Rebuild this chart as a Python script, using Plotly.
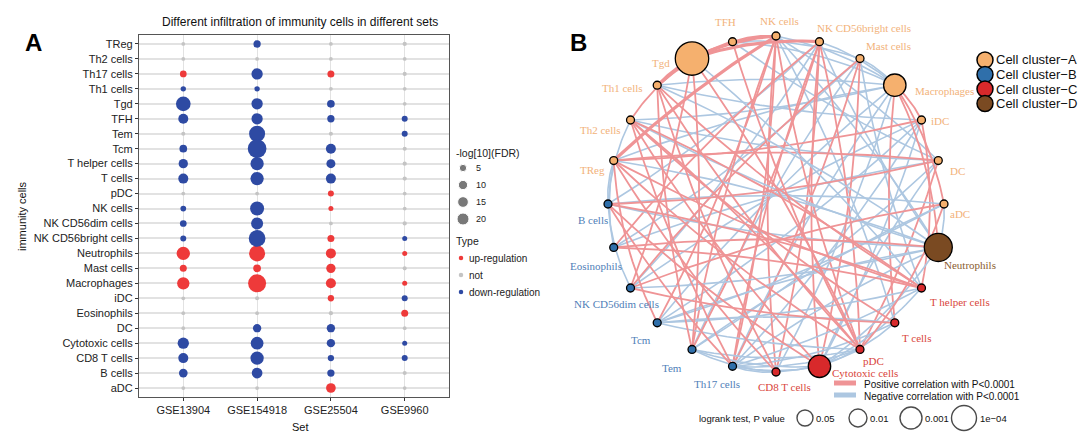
import numpy as np
import plotly.graph_objects as go

W, H = 1080, 439

# ---------------- Panel A data ----------------
cells = ["TReg", "Th2 cells", "Th17 cells", "Th1 cells", "Tgd", "TFH", "Tem", "Tcm",
         "T helper cells", "T cells", "pDC", "NK cells", "NK CD56dim cells",
         "NK CD56bright cells", "Neutrophils", "Mast cells", "Macrophages", "iDC",
         "Eosinophils", "DC", "Cytotoxic cells", "CD8 T cells", "B cells", "aDC"]
sets = ["GSE13904", "GSE154918", "GSE25504", "GSE9960"]

fdr_GSE13904 = [0.3, 0.3, 3.8, 1.7, 33, 12.4, 0.5, 5.9, 10.2, 12.4, 0.3, 2.2, 3.8, 2.6,
                26, 4.4, 21.3, 0.3, 0.3, 0.3, 17.2, 12.4, 8.4, 0.3]
type_GSE13904 = ["not", "not", "up", "down", "down", "down", "not", "down", "down", "down",
                 "not", "down", "down", "down", "up", "up", "up", "not", "not", "not",
                 "down", "down", "down", "not"]
fdr_GSE154918 = [5.0, 0.3, 17.2, 1.7, 17.2, 17.0, 40.7, 58.8, 26, 26, 0.3, 29.5, 20, 45,
                 40.7, 5.9, 53.8, 0.5, 0.3, 7.4, 23.1, 26, 14.9, 0.3]
type_GSE154918 = ["down", "not", "down", "down", "down", "down", "down", "down", "down", "down",
                  "not", "down", "down", "down", "up", "up", "up", "not", "not", "down",
                  "down", "down", "down", "not"]
fdr_GSE25504 = [0.3, 0.3, 4.4, 0.3, 5.9, 5.0, 0.5, 12.4, 9.3, 12.4, 2.6, 1.3, 0.3, 4.4,
                12.4, 10.2, 12.4, 3.1, 0.6, 7.4, 7.4, 3.1, 5.0, 11.4]
type_GSE25504 = ["not", "not", "up", "not", "down", "down", "not", "down", "down", "down",
                 "up", "up", "not", "up", "up", "up", "up", "up", "not", "down",
                 "down", "down", "down", "up"]
fdr_GSE9960 = [0.6, 0.3, 0.5, 0.3, 0.3, 2.6, 2.6, 0.5, 0.6, 0.6, 0.3, 0.3, 0.6, 1.3,
               1.3, 0.5, 1.3, 2.6, 4.4, 0.3, 1.3, 2.6, 0.5, 0.3]
type_GSE9960 = ["not", "not", "not", "not", "not", "down", "down", "not", "not", "not",
                "not", "not", "not", "down", "up", "not", "up", "down", "up", "not",
                "down", "down", "not", "not"]

fdr_by_set = [fdr_GSE13904, fdr_GSE154918, fdr_GSE25504, fdr_GSE9960]
type_by_set = [type_GSE13904, type_GSE154918, type_GSE25504, type_GSE9960]
size_breaks = [5, 10, 15, 20]
type_levels = ["up-regulation", "not", "down-regulation"]

# ---------------- Panel B data ----------------
nodes = ["NK cells", "NK CD56bright cells", "Mast cells", "Macrophages", "iDC", "DC", "aDC",
         "Neutrophils", "T helper cells", "T cells", "pDC", "Cytotoxic cells", "CD8 T cells",
         "Th17 cells", "Tem", "Tcm", "NK CD56dim cells", "Eosinophils", "B cells", "TReg",
         "Th2 cells", "Th1 cells", "Tgd", "TFH"]
node_cluster = ["A", "A", "A", "A", "A", "A", "A", "D", "C", "C", "C", "C", "C",
                "B", "B", "B", "B", "B", "B", "A", "A", "A", "A", "A"]
node_p = [0.05, 0.05, 0.05, 3e-4, 0.05, 0.05, 0.05, 4e-5, 0.05, 0.05, 0.05, 3e-4, 0.05,
          0.05, 0.05, 0.05, 0.05, 0.05, 0.05, 0.05, 0.05, 0.05, 6e-6, 0.05]

pos_strong = [(22, 0), (22, 1), (19, 0), (21, 23)]
pos_edges = [(23, 0), (21, 22), (20, 22),
             (0, 12), (0, 13), (0, 14), (0, 15), (0, 10),
             (1, 10), (1, 11), (1, 12), (1, 13), (1, 14), (1, 17),
             (2, 11), (2, 13), (2, 16),
             (3, 4), (3, 6), (3, 7), (3, 9),
             (4, 19), (4, 8),
             (5, 19), (5, 10), (5, 18),
             (6, 10), (6, 16),
             (7, 17),
             (8, 18), (8, 19), (8, 20), (8, 21),
             (9, 16), (9, 20),
             (10, 19), (10, 20), (10, 21), (10, 22), (10, 23),
             (11, 18), (11, 20),
             (12, 19), (12, 21),
             (13, 18), (13, 20),
             (14, 21), (14, 22),
             (15, 19),
             (16, 22),
             (17, 8)]
neg_edges = [(23, 2), (23, 3), (23, 5),
             (0, 3), (0, 5), (0, 7), (0, 9),
             (1, 3), (1, 7), (1, 16), (1, 18),
             (2, 3), (2, 8), (2, 14), (2, 17),
             (3, 12), (3, 13), (3, 15), (3, 19), (3, 20), (3, 21),
             (4, 11), (4, 13), (4, 15), (4, 16), (4, 21),
             (5, 11), (5, 14), (5, 17), (5, 20),
             (6, 7), (6, 14), (6, 15), (6, 18),
             (7, 11), (7, 13), (7, 15), (7, 16), (7, 18), (7, 19), (7, 20), (7, 21),
             (8, 11), (8, 13), (8, 15), (8, 22),
             (9, 11), (9, 13), (9, 15),
             (10, 12), (10, 13), (10, 14), (10, 15),
             (11, 13), (11, 14), (12, 13), (12, 14),
             (16, 18), (18, 19), (18, 20), (17, 19)]

cluster_names = ["Cell cluster\u2212A", "Cell cluster\u2212B", "Cell cluster\u2212C", "Cell cluster\u2212D"]
pval_breaks = ["0.05", "0.01", "0.001", "1e\u221204"]

# ---------------- styles ----------------
COL_TYPE = {"up": "#EE3A3A", "not": "#C4C4C4", "down": "#2E4AA3"}
CL_FILL = {"A": "#F5B06E", "B": "#2F6FAA", "C": "#D8292B", "D": "#7A4A22"}
CL_TEXT = {"A": "#F2B27A", "B": "#4F80B8", "C": "#D9453B", "D": "#8A5C30"}
RED_EDGE = "#EF9496"
BLUE_EDGE = "#ADC7E1"
SANS = "Liberation Sans, Arial, sans-serif"
SERIF = "Liberation Serif, Times New Roman, serif"


def dot_size(v):
    return 2.6 + 2.1 * np.sqrt(v)


def node_size(p):
    return 6.5 * (-np.log10(p)) - 0.5


def px(x):
    return x / W


def py(y):
    return 1 - y / H


def label(x, y, text, size, color="#111", family=SANS, xanchor="center", angle=0):
    return dict(x=px(x), y=py(y), xref="paper", yref="paper", text=text, showarrow=False,
                xanchor=xanchor, yanchor="middle", textangle=angle,
                font=dict(family=family, size=size, color=color))


fig = go.Figure()

# ---------------- Panel A ----------------
for key in ["not", "up", "down"]:
    xs, ys, ss = [], [], []
    for si, s in enumerate(sets):
        for ci, c in enumerate(cells):
            if type_by_set[si][ci] == key:
                xs.append(s)
                ys.append(c)
                ss.append(dot_size(fdr_by_set[si][ci]))
    fig.add_trace(go.Scatter(x=xs, y=ys, mode="markers", xaxis="x", yaxis="y",
                             marker=dict(size=ss, color=COL_TYPE[key], opacity=1, line=dict(width=0)),
                             showlegend=False, hoverinfo="skip"))

# ---------------- Panel B geometry ----------------
CX, CY, R = 776, 204, 168
ang = np.deg2rad(90 - 15 * np.arange(len(nodes)))
NX = CX + R * np.cos(ang)
NY = CY - R * np.sin(ang)


def curve(i, j, n=24):
    x0, y0, x1, y1 = NX[i], NY[i], NX[j], NY[j]
    mx, my = (x0 + x1) / 2, (y0 + y1) / 2
    dx, dy = x1 - x0, y1 - y0
    L = np.hypot(dx, dy)
    nx_, ny_ = -dy / L, dx / L
    if L < 1.1 * R:
        c = 0.10
        if (mx - CX) * nx_ + (my - CY) * ny_ < 0:
            nx_, ny_ = -nx_, -ny_
    else:
        c = 0.05 if (i + j) % 2 == 0 else -0.05
    qx, qy = mx + c * L * nx_, my + c * L * ny_
    t = np.linspace(0, 1, n)
    bx = (1 - t) ** 2 * x0 + 2 * (1 - t) * t * qx + t ** 2 * x1
    by = (1 - t) ** 2 * y0 + 2 * (1 - t) * t * qy + t ** 2 * y1
    return list(bx) + [None], list(by) + [None]


def edge_trace(edges, color, width):
    xs, ys = [], []
    for i, j in edges:
        a, b = curve(i, j)
        xs += a
        ys += b
    return go.Scatter(x=xs, y=ys, mode="lines", xaxis="x2", yaxis="y2",
                      line=dict(color=color, width=width), showlegend=False, hoverinfo="skip")


hn = len(neg_edges) // 2
hp = len(pos_edges) // 2
fig.add_trace(edge_trace(neg_edges[:hn], BLUE_EDGE, 1.6))
fig.add_trace(edge_trace(pos_edges[:hp], RED_EDGE, 1.8))
fig.add_trace(edge_trace(neg_edges[hn:], BLUE_EDGE, 1.6))
fig.add_trace(edge_trace(pos_edges[hp:], RED_EDGE, 1.8))
fig.add_trace(edge_trace(pos_strong, RED_EDGE, 3.2))

fig.add_trace(go.Scatter(x=NX, y=NY, mode="markers", xaxis="x2", yaxis="y2",
                         marker=dict(size=[node_size(p) for p in node_p],
                                     color=[CL_FILL[c] for c in node_cluster],
                                     line=dict(color="black", width=1.3), opacity=1),
                         showlegend=False, hoverinfo="skip"))

# node label placement (dx, dy, anchor) relative to node, in px
label_pos = [(3, -15, "center"), (-4, -14, "left"), (4, -13, "left"), (18, 6, "left"),
             (8, 1, "left"), (10, 10, "left"), (4, 10, "left"), (4, 18, "left"),
             (7, 14, "left"), (5, 15, "left"), (1, 12, "left"), (11, 7, "left"),
             (8, 15, "center"), (-16, 18, "center"), (-20, 19, "center"), (-16, 17, "center"),
             (-14, 16, "center"), (-18, 19, "center"), (-15, 16, "center"), (-7, 9, "right"),
             (-8, 10, "right"), (-12, 3, "right"), (-20, 4, "right"), (-7, -20, "center")]

ann = []
for k, name in enumerate(nodes):
    dx, dy, anc = label_pos[k]
    ann.append(label(NX[k] + dx, NY[k] + dy, name, 11, CL_TEXT[node_cluster[k]], SERIF, anc))

# ---------------- Legends (pixel overlay) ----------------
fig.add_trace(go.Scatter(x=[463] * 4, y=[168, 185, 202, 219], mode="markers", xaxis="x2", yaxis="y2",
                         marker=dict(size=[dot_size(v) for v in size_breaks], color="#3F3F3F"),
                         showlegend=False, hoverinfo="skip"))
for v, yy in zip(size_breaks, [168, 185, 202, 219]):
    ann.append(label(474, yy, str(v), 9, "#222", SANS, "left"))
ann.append(label(454, 153, "-log[10](FDR)", 10.5, "#222", SANS, "left"))
ann.append(label(454, 241, "Type", 10.5, "#222", SANS, "left"))
fig.add_trace(go.Scatter(x=[461] * 3, y=[258, 275, 292], mode="markers", xaxis="x2", yaxis="y2",
                         marker=dict(size=4.5, color=[COL_TYPE["up"], COL_TYPE["not"], COL_TYPE["down"]]),
                         showlegend=False, hoverinfo="skip"))
for t, yy in zip(type_levels, [258, 275, 292]):
    ann.append(label(467, yy, t, 10, "#222", SANS, "left"))

cl_keys = ["A", "B", "C", "D"]
cl_y = [60, 74.5, 89, 103.5]
fig.add_trace(go.Scatter(x=[985] * 4, y=cl_y, mode="markers", xaxis="x2", yaxis="y2",
                         marker=dict(size=16, color=[CL_FILL[k] for k in cl_keys],
                                     line=dict(color="black", width=1.5)),
                         showlegend=False, hoverinfo="skip"))
for nm, yy in zip(cluster_names, cl_y):
    ann.append(label(994, yy, nm, 13, "#111", SANS, "left"))

fig.add_trace(go.Scatter(x=[834, 856], y=[383, 383], mode="lines",
                         xaxis="x2", yaxis="y2", line=dict(color=RED_EDGE, width=5),
                         showlegend=False, hoverinfo="skip"))
fig.add_trace(go.Scatter(x=[834, 856], y=[395, 395], mode="lines",
                         xaxis="x2", yaxis="y2", line=dict(color=BLUE_EDGE, width=5),
                         showlegend=False, hoverinfo="skip"))
ann.append(label(862, 384, "Positive correlation with P<0.0001", 10, "#111", SANS, "left"))
ann.append(label(862, 396, "Negative correlation with P<0.0001", 10, "#111", SANS, "left"))

lr_x = [805, 858, 911, 964]
lr_d = [16, 18, 22, 25]
fig.add_trace(go.Scatter(x=lr_x, y=[418] * 4, mode="markers", xaxis="x2", yaxis="y2",
                         marker=dict(size=lr_d, color="white", line=dict(color="black", width=1.4)),
                         showlegend=False, hoverinfo="skip"))
for lbl, xx, dd in zip(pval_breaks, lr_x, lr_d):
    ann.append(label(xx + dd / 2 + 1, 418, lbl, 9.5, "#111", SANS, "left"))
ann.append(label(697, 418, "logrank test, P value", 9.5, "#111", SANS, "left"))

ann += [
    label(33, 42, "<b>A</b>", 24, "black"),
    label(578, 42, "<b>B</b>", 24, "black"),
    label(300, 22, "Different infiltration of immunity cells in different sets", 12, "#111"),
    label(300, 427, "Set", 11, "#111"),
    label(22, 216, "immunity cells", 11, "#111", SANS, "center", -90),
]

fig.update_layout(
    width=W, height=H, margin=dict(l=0, r=0, t=0, b=0),
    paper_bgcolor="white", plot_bgcolor="rgba(0,0,0,0)",
    showlegend=False,
    xaxis=dict(domain=[px(139), px(449)], type="category", categoryorder="array", categoryarray=sets,
               range=[-0.6, 3.6], showgrid=True, gridcolor="#E2E2E2", gridwidth=1,
               showline=True, mirror=True, linecolor="#555555", linewidth=1.2,
               ticks="outside", ticklen=3, tickcolor="#333", tickfont=dict(family=SANS, size=11, color="#222"),
               zeroline=False, anchor="y"),
    yaxis=dict(domain=[py(397), py(35)], type="category", categoryorder="array", categoryarray=cells[::-1],
               range=[-0.6, 23.6], showgrid=True, gridcolor="#E2E2E2", gridwidth=1.6,
               showline=True, mirror=True, linecolor="#555555", linewidth=1.2,
               ticks="outside", ticklen=3, tickcolor="#333", tickfont=dict(family=SANS, size=11, color="#222"),
               zeroline=False, anchor="x"),
    xaxis2=dict(domain=[0, 1], range=[0, W], visible=False, anchor="y2", fixedrange=True),
    yaxis2=dict(domain=[0, 1], range=[H, 0], visible=False, anchor="x2", fixedrange=True),
    annotations=ann,
)

fig.write_html("out.html", config={"displayModeBar": False},
               post_script="document.body.style.margin='0px';document.body.style.overflow='hidden';")
